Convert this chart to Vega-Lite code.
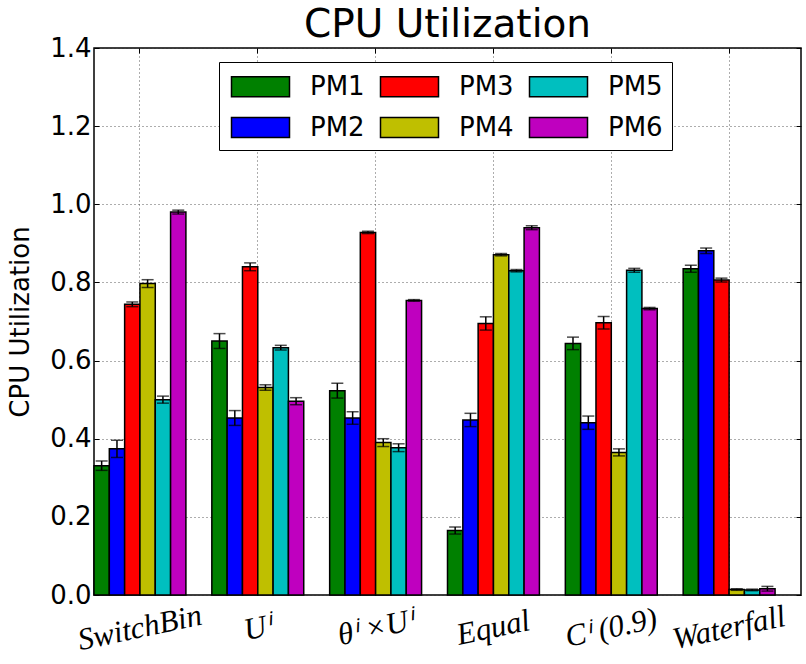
{
  "$schema": "https://vega.github.io/schema/vega-lite/v6.json",
  "autosize": {"type": "none"},
  "padding": {"left": 94, "top": 48, "right": 5, "bottom": 69},
  "width": 707,
  "height": 547,
  "background": "white",
  "title": {
    "text": "CPU Utilization",
    "font": "DejaVu Sans",
    "fontSize": 39,
    "fontWeight": "normal",
    "color": "black",
    "anchor": "middle",
    "frame": "group",
    "baseline": "alphabetic",
    "offset": -41
  },
  "data": {
    "values": [
      {"method": "SwitchBin", "pm": "PM1", "value": 0.331, "err": 0.012},
      {"method": "SwitchBin", "pm": "PM2", "value": 0.374, "err": 0.022},
      {"method": "SwitchBin", "pm": "PM3", "value": 0.744, "err": 0.006},
      {"method": "SwitchBin", "pm": "PM4", "value": 0.797, "err": 0.010},
      {"method": "SwitchBin", "pm": "PM5", "value": 0.500, "err": 0.009},
      {"method": "SwitchBin", "pm": "PM6", "value": 0.980, "err": 0.005},
      {"method": "Uⁱ", "pm": "PM1", "value": 0.650, "err": 0.019},
      {"method": "Uⁱ", "pm": "PM2", "value": 0.453, "err": 0.019},
      {"method": "Uⁱ", "pm": "PM3", "value": 0.840, "err": 0.010},
      {"method": "Uⁱ", "pm": "PM4", "value": 0.531, "err": 0.007},
      {"method": "Uⁱ", "pm": "PM5", "value": 0.633, "err": 0.006},
      {"method": "Uⁱ", "pm": "PM6", "value": 0.496, "err": 0.009},
      {"method": "θⁱ ×Uⁱ", "pm": "PM1", "value": 0.523, "err": 0.019},
      {"method": "θⁱ ×Uⁱ", "pm": "PM2", "value": 0.453, "err": 0.016},
      {"method": "θⁱ ×Uⁱ", "pm": "PM3", "value": 0.928, "err": 0.003},
      {"method": "θⁱ ×Uⁱ", "pm": "PM4", "value": 0.390, "err": 0.010},
      {"method": "θⁱ ×Uⁱ", "pm": "PM5", "value": 0.377, "err": 0.010},
      {"method": "θⁱ ×Uⁱ", "pm": "PM6", "value": 0.754, "err": 0.002},
      {"method": "Equal", "pm": "PM1", "value": 0.165, "err": 0.009},
      {"method": "Equal", "pm": "PM2", "value": 0.448, "err": 0.017},
      {"method": "Equal", "pm": "PM3", "value": 0.695, "err": 0.017},
      {"method": "Equal", "pm": "PM4", "value": 0.871, "err": 0.003},
      {"method": "Equal", "pm": "PM5", "value": 0.830, "err": 0.003},
      {"method": "Equal", "pm": "PM6", "value": 0.940, "err": 0.005},
      {"method": "Cⁱ (0.9)", "pm": "PM1", "value": 0.644, "err": 0.016},
      {"method": "Cⁱ (0.9)", "pm": "PM2", "value": 0.441, "err": 0.017},
      {"method": "Cⁱ (0.9)", "pm": "PM3", "value": 0.697, "err": 0.016},
      {"method": "Cⁱ (0.9)", "pm": "PM4", "value": 0.365, "err": 0.009},
      {"method": "Cⁱ (0.9)", "pm": "PM5", "value": 0.831, "err": 0.005},
      {"method": "Cⁱ (0.9)", "pm": "PM6", "value": 0.733, "err": 0.003},
      {"method": "Waterfall", "pm": "PM1", "value": 0.835, "err": 0.009},
      {"method": "Waterfall", "pm": "PM2", "value": 0.881, "err": 0.007},
      {"method": "Waterfall", "pm": "PM3", "value": 0.806, "err": 0.005},
      {"method": "Waterfall", "pm": "PM4", "value": 0.014, "err": 0.002},
      {"method": "Waterfall", "pm": "PM5", "value": 0.013, "err": 0.002},
      {"method": "Waterfall", "pm": "PM6", "value": 0.016, "err": 0.006}
    ]
  },
  "encoding": {
    "xOffset": {
      "field": "pm",
      "type": "nominal",
      "sort": ["PM1", "PM2", "PM3", "PM4", "PM5", "PM6"],
      "scale": {"paddingInner": 0, "paddingOuter": 0}
    }
  },
  "layer": [
    {
      "mark": {"type": "bar", "stroke": "black", "strokeWidth": 1.5, "opacity": 1},
      "encoding": {
        "x": {
          "field": "method",
          "type": "nominal",
          "sort": ["SwitchBin", "Uⁱ", "θⁱ ×Uⁱ", "Equal", "Cⁱ (0.9)", "Waterfall"],
          "scale": {"paddingInner": 0.22, "paddingOuter": 0.11, "align": 0},
          "axis": {
            "orient": "bottom",
            "title": null,
            "labelAngle": -12,
            "labelAlign": "center",
            "labelBaseline": "middle",
            "labelPadding": 38,
            "labelFont": "Liberation Serif",
            "labelFontStyle": "italic",
            "labelFontSize": 31,
            "labelColor": "black",
            "tickSize": -5,
            "tickColor": "black",
            "bandPosition": 0.5,
            "grid": true,
            "domain": false
          }
        },
        "y": {
          "field": "value",
          "type": "quantitative",
          "scale": {"domain": [0, 1.4], "nice": false, "zero": true},
          "axis": {
            "orient": "left",
            "title": "CPU Utilization",
            "titleFont": "DejaVu Sans",
            "titleFontSize": 26,
            "titleFontWeight": "normal",
            "titleColor": "black",
            "titlePadding": 16,
            "values": [0, 0.2, 0.4, 0.6, 0.8, 1.0, 1.2, 1.4],
            "format": ".1f",
            "labelFont": "DejaVu Sans",
            "labelFontSize": 26,
            "labelColor": "black",
            "labelPadding": 8,
            "tickSize": -5,
            "tickColor": "black",
            "grid": true,
            "domain": false
          }
        },
        "color": {
          "field": "pm",
          "type": "nominal",
          "scale": {
            "domain": ["PM1", "PM2", "PM3", "PM4", "PM5", "PM6"],
            "range": ["#008000", "#0000ff", "#ff0000", "#bfbf00", "#00bfbf", "#bf00bf"]
          },
          "legend": {
            "title": null,
            "orient": "none",
            "legendX": 125,
            "legendY": 14,
            "columns": 3,
            "symbolType": "M-2,-0.69H2V0.69H-2Z",
            "symbolSize": 841,
            "symbolOffset": 17,
            "symbolStrokeColor": "black",
            "symbolStrokeWidth": 1.5,
            "symbolOpacity": 1,
            "labelFont": "DejaVu Sans",
            "labelFontSize": 26,
            "labelColor": "black",
            "labelOffset": 34,
            "columnPadding": 12,
            "rowPadding": 12,
            "padding": 9,
            "strokeColor": "black",
            "fillColor": "white"
          }
        }
      }
    },
    {
      "mark": {
        "type": "errorbar",
        "color": "black",
        "thickness": 1.5,
        "ticks": {"size": 12, "thickness": 1.5, "color": "black"}
      },
      "encoding": {
        "x": {
          "field": "method",
          "type": "nominal",
          "sort": ["SwitchBin", "Uⁱ", "θⁱ ×Uⁱ", "Equal", "Cⁱ (0.9)", "Waterfall"],
          "axis": {
            "orient": "top",
            "title": null,
            "labels": false,
            "tickSize": -5,
            "tickColor": "black",
            "bandPosition": 0.5,
            "grid": false,
            "domain": false
          }
        },
        "y": {
          "field": "value",
          "type": "quantitative",
          "axis": {
            "orient": "right",
            "title": null,
            "labels": false,
            "values": [0, 0.2, 0.4, 0.6, 0.8, 1.0, 1.2, 1.4],
            "tickSize": -5,
            "tickColor": "black",
            "grid": false,
            "domain": false
          }
        },
        "yError": {"field": "err"}
      }
    }
  ],
  "resolve": {"axis": {"x": "independent", "y": "independent"}},
  "config": {
    "view": {"stroke": "black", "strokeWidth": 1.5},
    "axis": {
      "gridColor": "#333",
      "gridDash": [1, 3],
      "gridWidth": 1,
      "gridOpacity": 0.8
    }
  }
}
